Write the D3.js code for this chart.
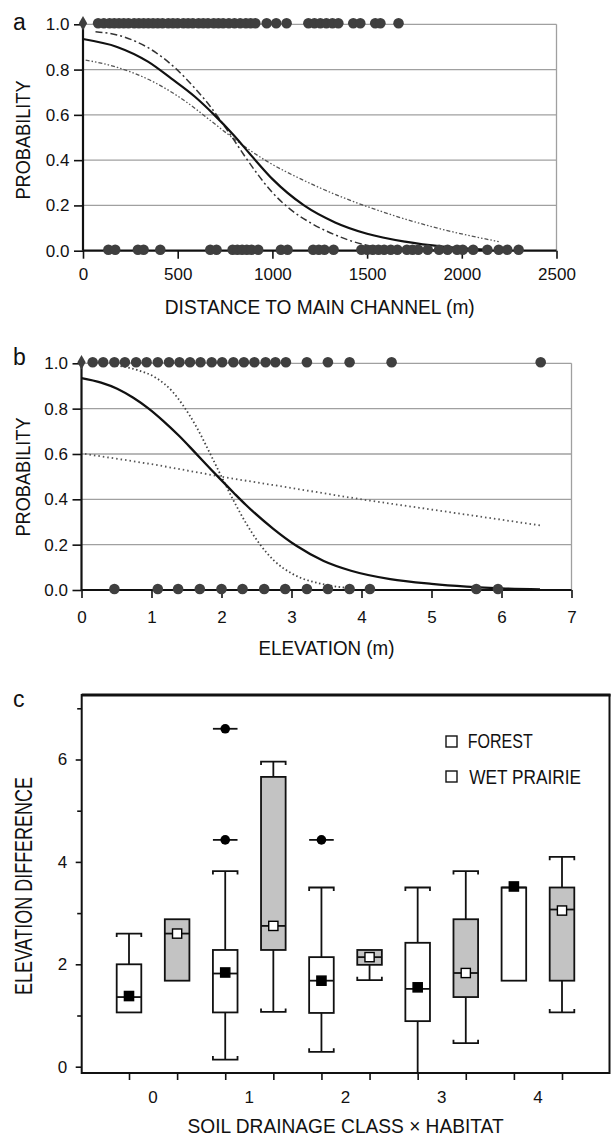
<!DOCTYPE html>
<html><head><meta charset="utf-8">
<script src="https://cdn.jsdelivr.net/npm/d3@7"></script>
<style>
html,body{margin:0;padding:0;background:#fff;}
svg{display:block;}
text{font-family:"Liberation Sans",Arial,sans-serif;fill:#111;}
</style></head><body>
<script>
// ---------- DATA ----------
// Panel a: distance to main channel (m)
const distTicks = [0, 500, 1000, 1500, 2000, 2500];
const probTicks = [0, 0.2, 0.4, 0.6, 0.8, 1.0];
const distPresent = [0, 80,110,140,165,190,215,240,270,295,320,345,370,395,420,450,475,500,530,555,580,610,635,660,690,715,740,770,800,830,860,885,910,970,1020,1075,1190,1222,1253,1285,1317,1348,1427,1464,1543,1570,1666];
const distAbsent = [134,170,290,320,408,672,705,790,815,840,865,890,925,1045,1080,1215,1245,1275,1323,1470,1500,1530,1560,1590,1625,1660,1710,1740,1770,1820,1880,1925,1975,2005,2060,2135,2195,2240,2300];
const distFitX = [0,180,343,467,591,693,796,889,1002,1167,1331,1500,1700,1900,2050,2160];
const distFitP = [0.935,0.90,0.835,0.76,0.68,0.60,0.51,0.42,0.315,0.20,0.125,0.075,0.04,0.018,0.008,0.004];
const distUpperX = [66,180,282,385,488,591,673,755,800,848,920,1002,1084,1208,1331,1496,1700,2000];
const distUpperP = [0.967,0.953,0.923,0.875,0.806,0.717,0.636,0.54,0.485,0.425,0.34,0.255,0.19,0.12,0.07,0.025,0.008,0.002];
const distLowerX = [14,180,385,549,673,796,961,1167,1372,1517,1825,2195];
const distLowerP = [0.842,0.81,0.74,0.655,0.575,0.495,0.40,0.31,0.235,0.19,0.11,0.04];

// Panel b: elevation (m)
const elevTicks = [0,1,2,3,4,5,6,7];
const elevPresent = [0,0.16,0.31,0.47,0.62,0.78,0.93,1.09,1.25,1.40,1.55,1.70,1.86,2.01,2.17,2.32,2.47,2.63,2.77,2.92,3.22,3.52,3.83,4.43,6.56];
const elevAbsent = [0.47,1.09,1.38,1.69,2.00,2.30,2.61,2.91,3.22,3.52,3.83,4.12,5.64,5.95];
const elevFitX = [0,0.28,0.51,0.74,0.96,1.17,1.40,1.62,1.84,1.98,2.18,2.35,2.74,3.07,3.46,3.85,4.41,5.0,5.5,6.0,6.55];
const elevFitP = [0.935,0.915,0.888,0.848,0.80,0.745,0.678,0.607,0.535,0.49,0.427,0.375,0.27,0.195,0.128,0.085,0.048,0.027,0.015,0.007,0.003];
const elevSteepX = [0.5,0.8,1.07,1.3,1.45,1.65,1.84,2.0,2.18,2.35,2.54,2.75,3.02,3.46,3.85];
const elevSteepP = [0.99,0.97,0.935,0.875,0.815,0.715,0.60,0.50,0.39,0.295,0.205,0.13,0.07,0.025,0.008];
const elevFlatX = [0.05,1,2,3,4,5,6,6.55];
const elevFlatP = [0.60,0.555,0.50,0.45,0.40,0.355,0.31,0.285];

// Panel c: boxplots, soil drainage class x habitat
const drainClasses = ["0","1","2","3","4"];
const habitats = ["FOREST","WET PRAIRIE"];
const boxKeys = ["0F","0P","1F","1P","2F","2P","3F","3P","4F","4P"];
const boxQ1     = [1.06,1.68,1.06,2.28,1.05,1.99,0.89,1.36,1.68,1.68];
const boxQ3     = [2.00,2.88,2.28,5.66,2.14,2.28,2.42,2.88,3.50,3.50];
const boxMedian = [1.36,2.60,1.82,2.75,1.68,2.14,1.52,1.83,3.50,3.07];
const boxMean   = [1.38,2.60,1.84,2.75,1.68,2.14,1.55,1.83,3.52,3.05];
const whiskLow  = [null,null,0.14,1.07,0.29,1.69,-0.2,0.46,null,1.06];
const whiskHigh = [2.60,null,3.82,5.96,3.50,null,3.50,3.82,null,4.10];
const outlierKey = ["1F","1F","2F"];
const outlierVal = [6.60,4.43,4.43];
const elevDiffTicks = [0,1,2,3,4,5,6,7];

// ---------- DRAW ----------
const svg = d3.select("body").append("svg").attr("width",611).attr("height",1137);
svg.append("rect").attr("width",611).attr("height",1137).attr("fill","#fff");

const DOT = "#3f3f3f";
const TICKFS = 17;

function probPanel(cfg){
  const {x, y, xTicks, xFmt, present, absent, curves, letter, letterY, xTitle, xTitleW, xTitleY, tickLabelY, yTitleY} = cfg;
  const g = svg.append("g");
  const [x0,x1] = x.domain();
  // gridlines
  g.selectAll(".grid").data(probTicks.filter(d=>d>0)).join("line")
    .attr("x1",x(x0)).attr("x2",x(x1)).attr("y1",d=>y(d)).attr("y2",d=>y(d))
    .attr("stroke","#a0a0a0").attr("stroke-width",1.3);
  g.append("line").attr("x1",x(x1)).attr("x2",x(x1)).attr("y1",y(0)).attr("y2",y(1))
    .attr("stroke","#a0a0a0").attr("stroke-width",1.3);
  // y axis
  const ya = d3.axisLeft(y).tickValues(probTicks).tickFormat(d3.format(".1f")).tickSize(9).tickPadding(4.6);
  const yg = g.append("g").attr("transform",`translate(${x(x0)},0)`).call(ya);
  yg.select(".domain").remove();
  yg.selectAll("line").attr("stroke","#111").attr("stroke-width",1.6);
  yg.selectAll("text").attr("font-size",TICKFS).attr("font-family",null);
  // x axis
  const xa = d3.axisBottom(x).tickValues(xTicks).tickFormat(xFmt).tickSize(8);
  const xg = g.append("g").attr("transform",`translate(0,${y(0)})`).call(xa);
  xg.select(".domain").remove();
  xg.selectAll("line").attr("stroke","#111").attr("stroke-width",1.6);
  xg.selectAll("text").attr("font-size",TICKFS).attr("font-family",null).attr("y",tickLabelY - y(0)).attr("dy",0);
  // axis lines
  g.append("line").attr("x1",x(x0)).attr("x2",x(x0)).attr("y1",y(0)).attr("y2",y(1)-1)
    .attr("stroke","#111").attr("stroke-width",2.2);
  g.append("line").attr("x1",x(x0)).attr("x2",x(x1)).attr("y1",y(0)).attr("y2",y(0))
    .attr("stroke","#111").attr("stroke-width",2.2);
  // curves
  curves.forEach(c=>{
    const pts = c.xs.map((v,i)=>[v,c.ps[i]]);
    g.append("path").datum(pts)
      .attr("d", d3.line().x(d=>x(d[0])).y(d=>y(d[1])).curve(d3.curveMonotoneX))
      .attr("fill","none").attr("stroke",c.color).attr("stroke-width",c.w)
      .attr("stroke-dasharray",c.dash||null);
  });
  // dots
  const dots = present.map(v=>({v,p:1})).concat(absent.map(v=>({v,p:0})));
  g.selectAll(".dot").data(dots.filter(d=>d.v>0)).join("circle")
    .attr("cx",d=>x(d.v)).attr("cy",d=>y(d.p)-1).attr("r",5.3).attr("fill",DOT);
  g.selectAll(".dia").data(dots.filter(d=>d.v===0)).join("path")
    .attr("transform",d=>`translate(${x(d.v)},${y(d.p)-1})`)
    .attr("d",d3.symbol(d3.symbolDiamond,60)).attr("fill",DOT);
  // letter
  svg.append("text").attr("x",13).attr("y",letterY).attr("font-size",23).text(letter);
  // titles
  svg.append("text").attr("x",(x(x0)+x(x1))/2).attr("y",xTitleY).attr("text-anchor","middle")
    .attr("font-size",20).attr("textLength",xTitleW).attr("lengthAdjust","spacingAndGlyphs").text(xTitle);
  svg.append("text").attr("transform",`translate(30.4,${yTitleY}) rotate(-90)`).attr("text-anchor","middle")
    .attr("font-size",20.5).attr("textLength",119).attr("lengthAdjust","spacingAndGlyphs").text("PROBABILITY");
}

const xA = d3.scaleLinear().domain([0,2500]).range([83,556.5]);
const yA = d3.scaleLinear().domain([0,1]).range([250.7,24.3]);
probPanel({x:xA, y:yA, xTicks:distTicks, xFmt:d3.format("d"), present:distPresent, absent:distAbsent,
  curves:[
    {xs:distLowerX, ps:distLowerP, color:"#555", w:1.3, dash:"4,2,1.5,2,1.5,2"},
    {xs:distUpperX, ps:distUpperP, color:"#333", w:1.5, dash:"7,3,2,3"},
    {xs:distFitX, ps:distFitP, color:"#111", w:2.2}
  ],
  letter:"a", letterY:30, xTitle:"DISTANCE TO MAIN CHANNEL (m)", xTitleW:310, xTitleY:314, tickLabelY:280, yTitleY:140});

const xB = d3.scaleLinear().domain([0,7]).range([81.5,571.5]);
const yB = d3.scaleLinear().domain([0,1]).range([590,363.3]);
probPanel({x:xB, y:yB, xTicks:elevTicks, xFmt:d3.format("d"), present:elevPresent, absent:elevAbsent,
  curves:[
    {xs:elevFlatX, ps:elevFlatP, color:"#555", w:1.8, dash:"1.5,3"},
    {xs:elevSteepX, ps:elevSteepP, color:"#444", w:1.8, dash:"1.5,2.5"},
    {xs:elevFitX, ps:elevFitP, color:"#111", w:2.3}
  ],
  letter:"b", letterY:365, xTitle:"ELEVATION (m)", xTitleW:136, xTitleY:655, tickLabelY:623, yTitleY:477});

// ---------- Panel c ----------
const L=81.7, R=609.5, T=695, B=1073;
const xC = d3.scalePoint().domain(boxKeys).range([129,562]);
const yC = d3.scaleLinear().domain([0,7]).range([1066.7,708.3]);
const gc = svg.append("g");
// frame
gc.append("rect").attr("x",L).attr("y",T).attr("width",R-L).attr("height",B-T)
  .attr("fill","none").attr("stroke","#111").attr("stroke-width",2);
gc.append("line").attr("x1",L).attr("x2",R+1).attr("y1",T).attr("y2",T).attr("stroke","#111").attr("stroke-width",3);
// y axis ticks
const yca = d3.axisLeft(yC).tickValues(elevDiffTicks).tickFormat(d=>d%2===0?d:"").tickSize(6).tickPadding(8.5);
const ycg = gc.append("g").attr("transform",`translate(${L},0)`).call(yca);
ycg.select(".domain").remove();
ycg.selectAll("line").attr("stroke","#111").attr("stroke-width",1.6).attr("x2",d=>d%2===0?-6:-4.5);
ycg.selectAll("text").attr("font-size",TICKFS).attr("font-family",null);
// x axis ticks
const xca = d3.axisBottom(xC).tickFormat("").tickSize(7);
const xcg = gc.append("g").attr("transform",`translate(0,${B})`).call(xca);
xcg.select(".domain").remove();
xcg.selectAll("line").attr("stroke","#111").attr("stroke-width",1.6);
gc.selectAll(".cls").data(drainClasses).join("text")
  .attr("x",(d,i)=>(xC(boxKeys[2*i])+xC(boxKeys[2*i+1]))/2).attr("y",1102.7)
  .attr("text-anchor","middle").attr("font-size",TICKFS).text(d=>d);

const bw = 24.6, cap = 3.5;
const boxes = boxKeys.map((k,i)=>({k, i, prairie:k.endsWith("P"), q1:boxQ1[i], q3:boxQ3[i], med:boxMedian[i], mean:boxMean[i], lo:whiskLow[i], hi:whiskHigh[i]}));
const bg = gc.selectAll(".box").data(boxes).join("g");
// whiskers
bg.each(function(d){
  const g = d3.select(this), cx = xC(d.k);
  if(d.hi!==null){
    g.append("line").attr("x1",cx).attr("x2",cx).attr("y1",yC(d.q3)).attr("y2",yC(d.hi)).attr("stroke","#111").attr("stroke-width",1.8);
    g.append("path").attr("d",`M${cx-bw/2},${yC(d.hi)+cap}V${yC(d.hi)}H${cx+bw/2}V${yC(d.hi)+cap}`)
      .attr("fill","none").attr("stroke","#111").attr("stroke-width",1.8);
  }
  if(d.lo!==null){
    const clipped = d.lo < yC.domain()[0];
    const yl = clipped ? B : yC(d.lo);
    g.append("line").attr("x1",cx).attr("x2",cx).attr("y1",yC(d.q1)).attr("y2",yl).attr("stroke","#111").attr("stroke-width",1.8);
    if(!clipped) g.append("path").attr("d",`M${cx-bw/2},${yl-cap}V${yl}H${cx+bw/2}V${yl-cap}`)
      .attr("fill","none").attr("stroke","#111").attr("stroke-width",1.8);
  }
});
bg.append("rect").attr("x",d=>xC(d.k)-bw/2).attr("width",bw)
  .attr("y",d=>yC(d.q3)).attr("height",d=>yC(d.q1)-yC(d.q3))
  .attr("fill",d=>d.prairie?"#c3c3c3":"#fff").attr("stroke","#111").attr("stroke-width",1.8);
bg.append("line").attr("x1",d=>xC(d.k)-bw/2).attr("x2",d=>xC(d.k)+bw/2)
  .attr("y1",d=>yC(d.med)).attr("y2",d=>yC(d.med)).attr("stroke","#111").attr("stroke-width",1.8);
bg.append("rect").attr("x",d=>xC(d.k)-4.6).attr("y",d=>yC(d.mean)-4.6).attr("width",9.2).attr("height",9.2)
  .attr("fill",d=>d.prairie?"#fff":"#000").attr("stroke","#000").attr("stroke-width",1.4);
// outliers
const outs = outlierKey.map((k,i)=>({k, v:outlierVal[i]}));
gc.selectAll(".outl").data(outs).join("line")
  .attr("x1",d=>xC(d.k)-bw/2).attr("x2",d=>xC(d.k)+bw/2).attr("y1",d=>yC(d.v)).attr("y2",d=>yC(d.v))
  .attr("stroke","#111").attr("stroke-width",1.8);
gc.selectAll(".outc").data(outs).join("circle")
  .attr("cx",d=>xC(d.k)).attr("cy",d=>yC(d.v)).attr("r",4.8).attr("fill","#000");
// legend
const leg = gc.selectAll(".leg").data(habitats).join("g");
leg.append("rect").attr("x",446).attr("y",(d,i)=>736+i*35).attr("width",11).attr("height",11)
  .attr("fill","#fff").attr("stroke","#111").attr("stroke-width",1.4);
leg.append("text").attr("x",(d,i)=>467.7+i*1.6).attr("y",(d,i)=>748.3+i*35.7).attr("font-size",19.5)
  .attr("textLength",(d,i)=>i?111.7:65).attr("lengthAdjust","spacingAndGlyphs").text(d=>d);
// titles
svg.append("text").attr("x",13).attr("y",707).attr("font-size",23).text("c");
svg.append("text").attr("transform","translate(31.7,886) rotate(-90)").attr("text-anchor","middle")
  .attr("font-size",24).attr("textLength",218).attr("lengthAdjust","spacingAndGlyphs").text("ELEVATION DIFFERENCE");
svg.append("text").attr("x",(L+R)/2).attr("y",1133).attr("text-anchor","middle")
  .attr("font-size",21).attr("textLength",316).attr("lengthAdjust","spacingAndGlyphs").text("SOIL DRAINAGE CLASS × HABITAT");
</script></body></html>
